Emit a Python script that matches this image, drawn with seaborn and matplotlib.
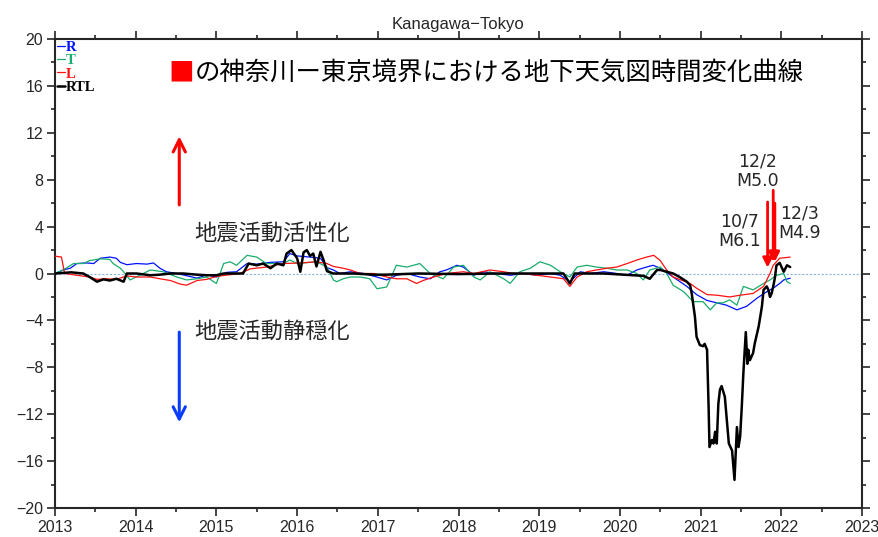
import matplotlib
matplotlib.use("Agg")
import matplotlib.pyplot as plt
from matplotlib.ticker import MultipleLocator
import seaborn as sns

# ---- data (decimal year, value) ----
r_t = [2013.00, 2013.10, 2013.19, 2013.27, 2013.39, 2013.48, 2013.56, 2013.68, 2013.76, 2013.81,
       2013.89, 2014.01, 2014.14, 2014.22, 2014.30, 2014.38, 2014.51, 2014.67, 2014.76, 2014.88,
       2015.00, 2015.13, 2015.25, 2015.38, 2015.50, 2015.67, 2015.83, 2015.91, 2016.00, 2016.16,
       2016.29, 2016.37, 2016.45, 2016.53, 2016.66, 2016.82, 2016.99, 2017.11, 2017.23, 2017.36,
       2017.52, 2017.65, 2017.77, 2017.85, 2017.98, 2018.06, 2018.19, 2018.31, 2018.47, 2018.64,
       2018.80, 2018.97, 2019.14, 2019.26, 2019.38, 2019.51, 2019.63, 2019.80, 2019.96, 2020.09,
       2020.21, 2020.33, 2020.41, 2020.50, 2020.66, 2020.83, 2020.95, 2021.08, 2021.20, 2021.32,
       2021.45, 2021.57, 2021.70, 2021.82, 2021.90, 2021.98, 2022.03, 2022.11]
r_v = [0.00, 0.30, 0.45, 0.85, 0.90, 0.85, 1.30, 1.40, 1.30, 0.95,
       0.75, 0.85, 0.80, 0.90, 0.45, 0.15, 0.00, -0.25, -0.40, -0.10,
       -0.30, 0.10, 0.15, 0.85, 0.80, 0.95, 1.00, 1.70, 1.50, 1.40,
       1.30, 0.50, 0.30, 0.00, 0.15, 0.00, -0.30, -0.55, -0.15, 0.00,
       -0.30, -0.45, 0.15, 0.30, 0.70, 0.55, -0.15, 0.15, 0.00, -0.15,
       0.00, -0.15, 0.00, -0.15, -0.70, 0.15, 0.00, 0.15, 0.00, -0.15,
       0.30, 0.55, 0.70, 0.45, -0.30, -1.10, -1.80, -2.30, -2.50, -2.70,
       -3.10, -2.80, -2.10, -1.55, -1.25, -0.85, -0.55, -0.40]

t_t = [2013.00, 2013.10, 2013.23, 2013.35, 2013.43, 2013.56, 2013.68, 2013.72, 2013.81, 2013.85,
       2013.93, 2014.05, 2014.18, 2014.34, 2014.51, 2014.63, 2014.76, 2014.88, 2015.00, 2015.09,
       2015.17, 2015.25, 2015.38, 2015.50, 2015.62, 2015.83, 2015.91, 2016.00, 2016.24, 2016.37,
       2016.45, 2016.49, 2016.57, 2016.66, 2016.78, 2016.90, 2016.99, 2017.11, 2017.23, 2017.36,
       2017.52, 2017.65, 2017.81, 2017.94, 2018.06, 2018.19, 2018.27, 2018.39, 2018.56, 2018.64,
       2018.76, 2018.89, 2019.01, 2019.14, 2019.26, 2019.38, 2019.47, 2019.59, 2019.71, 2019.84,
       2019.96, 2020.09, 2020.21, 2020.29, 2020.37, 2020.50, 2020.58, 2020.66, 2020.79, 2020.91,
       2021.03, 2021.12, 2021.20, 2021.28, 2021.36, 2021.45, 2021.53, 2021.65, 2021.78, 2021.86,
       2021.94, 2022.03, 2022.07, 2022.11]
t_v = [0.00, 0.30, 0.85, 0.85, 1.10, 1.25, 1.20, 0.85, 0.45, 0.15,
       -0.55, -0.15, 0.30, 0.15, -0.30, -0.55, -0.45, -0.30, -0.85, 0.85,
       1.00, 0.70, 1.55, 1.40, 0.85, 0.85, 1.15, 0.85, 1.00, 0.55,
       -0.55, -0.70, -0.45, -0.30, -0.30, -0.45, -1.30, -1.15, 0.70, 0.55,
       0.85, 0.00, -0.45, 0.55, 0.70, -0.30, -0.55, 0.15, -0.45, -0.85,
       0.15, 0.45, 1.00, 0.70, 0.15, -0.30, 0.55, 0.70, 0.55, 0.45,
       0.30, 0.30, 0.00, -0.55, 0.30, 0.55, 0.00, -1.00, -1.55, -2.40,
       -2.40, -3.10, -2.50, -2.50, -2.25, -2.70, -1.10, -1.40, -0.85, -0.55,
       -0.15, 0.00, -0.70, -0.85]

l_t = [2013.00, 2013.08, 2013.12, 2013.27, 2013.43, 2013.52, 2013.64, 2013.76, 2013.89, 2014.01,
       2014.18, 2014.30, 2014.43, 2014.55, 2014.63, 2014.76, 2014.88, 2015.00, 2015.17, 2015.29,
       2015.42, 2015.62, 2015.83, 2016.04, 2016.24, 2016.37, 2016.45, 2016.57, 2016.66, 2016.78,
       2016.95, 2017.11, 2017.23, 2017.36, 2017.48, 2017.56, 2017.69, 2017.85, 2018.06, 2018.19,
       2018.39, 2018.56, 2018.68, 2018.80, 2018.97, 2019.14, 2019.30, 2019.38, 2019.47, 2019.59,
       2019.71, 2019.84, 2019.96, 2020.09, 2020.21, 2020.33, 2020.42, 2020.50, 2020.58, 2020.66,
       2020.87, 2020.95, 2021.08, 2021.20, 2021.36, 2021.49, 2021.65, 2021.78, 2021.86, 2021.90,
       2021.98, 2022.11]
l_v = [1.48, 1.40, 0.00, -0.15, -0.30, -0.50, -0.45, -0.50, -0.20, -0.30,
       -0.30, -0.45, -0.60, -0.90, -1.00, -0.60, -0.50, -0.25, -0.10, 0.00,
       0.40, 0.55, 0.85, 0.90, 1.00, 0.85, 0.60, 0.45, 0.30, 0.00,
       0.00, -0.30, -0.45, -0.45, -0.85, -0.60, -0.30, 0.00, 0.15, 0.00,
       0.30, 0.15, 0.00, 0.00, -0.15, -0.30, -0.45, -1.10, -0.30, 0.15,
       0.30, 0.45, 0.55, 0.85, 1.15, 1.40, 1.55, 1.10, 0.30, -0.30,
       -0.85, -1.25, -1.80, -1.85, -2.00, -1.85, -1.70, -1.10, 0.00, 0.70,
       1.30, 1.40]

rtl_t = [2013.00, 2013.20, 2013.35, 2013.43, 2013.52, 2013.60, 2013.68, 2013.76, 2013.85, 2013.89,
         2014.01, 2014.18, 2014.30, 2014.43, 2014.59, 2014.76, 2014.88, 2015.00, 2015.09, 2015.25,
         2015.33, 2015.40, 2015.50, 2015.58, 2015.67, 2015.75, 2015.83, 2015.87, 2015.93, 2016.00,
         2016.04, 2016.08, 2016.12, 2016.16, 2016.20, 2016.24, 2016.29, 2016.33, 2016.37, 2016.45,
         2016.70, 2016.95, 2017.10, 2017.50, 2018.00, 2018.50, 2019.00, 2019.30, 2019.38, 2019.44,
         2019.80, 2020.29, 2020.37, 2020.46, 2020.50, 2020.58, 2020.66, 2020.74, 2020.83, 2020.87,
         2020.89, 2020.93, 2020.95, 2020.99, 2021.03, 2021.05, 2021.08, 2021.10, 2021.11, 2021.14,
         2021.16, 2021.18, 2021.20, 2021.22, 2021.24, 2021.26, 2021.30, 2021.35, 2021.39, 2021.42,
         2021.45, 2021.47, 2021.49, 2021.51, 2021.53, 2021.56, 2021.58, 2021.59, 2021.61, 2021.65,
         2021.67, 2021.72, 2021.76, 2021.78, 2021.82, 2021.84, 2021.86, 2021.88, 2021.90, 2021.92,
         2021.94, 2021.98, 2022.03, 2022.07, 2022.11]
rtl_v = [0.00, 0.10, 0.00, -0.30, -0.70, -0.50, -0.60, -0.45, -0.70, 0.00,
         0.00, -0.15, -0.10, 0.00, 0.00, -0.10, -0.15, -0.15, 0.00, 0.00,
         0.00, 0.85, 0.70, 0.85, 0.45, 0.85, 0.70, 1.70, 2.00, 1.30,
         0.15, 1.80, 2.00, 1.50, 1.70, 0.60, 1.85, 1.10, 0.20, 0.00,
         0.00, -0.10, -0.10, 0.00, -0.05, 0.00, 0.00, 0.00, -0.85, 0.00,
         0.00, -0.20, -0.45, 0.30, 0.30, 0.15, 0.00, -0.30, -0.70, -1.00,
         -1.70, -3.70, -5.40, -6.10, -6.20, -6.00, -6.50, -11.60, -14.80, -14.20,
         -14.50, -13.50, -14.50, -11.10, -9.90, -9.60, -10.50, -14.50, -15.10, -17.60,
         -13.10, -14.80, -13.90, -11.40, -8.50, -5.00, -7.70, -6.50, -7.40, -6.80,
         -6.00, -4.50, -2.80, -1.40, -1.10, -1.40, -2.00, -1.70, -1.10, -0.40,
         0.70, 0.90, 0.15, 0.70, 0.55]

# earthquakes marked with arrows (date position, arrow top, arrow tip)
eq_x = [2021.83, 2021.90, 2021.92]
eq_top = [6.1, 7.1, 6.0]
eq_tip = [0.5, 1.0, 1.0]
eq_labels = ["10/7\nM6.1", "12/2\nM5.0", "12/3\nM4.9"]
eq_label_x = [2021.48, 2021.70, 2022.23]
eq_label_y = [3.6, 8.7, 4.3]

series = [
    (r_t, r_v, "#0010ff", 0.9, "R"),
    (t_t, t_v, "#18ad6c", 0.9, "T"),
    (l_t, l_v, "#ff1010", 0.9, "L"),
    (rtl_t, rtl_v, "black", 1.8, "RTL"),
]

sns.set_style("ticks")
plt.rcParams["font.family"] = ["Liberation Sans", "DejaVu Sans"]
jp = ["Noto Sans CJK JP", "DejaVu Sans"]

fig = plt.figure(figsize=(8.79, 5.37), dpi=100)
ax = fig.add_axes([55 / 879, 29 / 537, 807 / 879, 469 / 537])

ax.axhline(0, color="#8cb4dc", lw=0.8, ls=(0, (2, 1.5)), zorder=1)

for t, v, c, lw, lab in series:
    sns.lineplot(x=t, y=v, color=c, linewidth=lw, label=lab, ax=ax,
                 sort=False, estimator=None, zorder=3)

ax.set_xlim(2013, 2023)
ax.set_ylim(-20, 20)
ax.xaxis.set_major_locator(MultipleLocator(1))
ax.xaxis.set_minor_locator(MultipleLocator(0.5))
ax.yaxis.set_major_locator(MultipleLocator(4))
ax.yaxis.set_minor_locator(MultipleLocator(2))
ax.xaxis.set_major_formatter(plt.FuncFormatter(lambda v, p: f"{int(round(v))}"))
ax.tick_params(which="both", direction="out", top=True, right=True, width=1.2,
               labelsize=11.5, pad=3)
ax.tick_params(which="major", length=5.5)
ax.tick_params(which="minor", length=3)
for s in ax.spines.values():
    s.set_linewidth(1.5)
ax.set_xlabel("")
ax.set_ylabel("")

ax.set_title("Kanagawa\u2212Tokyo", fontsize=12, pad=7)

leg = ax.legend(loc="upper left", bbox_to_anchor=(0.001, 0.999), frameon=False,
                handlelength=0.5, handletextpad=0.1, labelspacing=0.0,
                borderpad=0.1, borderaxespad=0.0, labelcolor="linecolor",
                prop={"family": "Liberation Serif", "weight": "bold", "size": 10.5})

# headline
ax.text(2014.41, 17.1, "\u25a0", color="red", fontsize=18.5, family=jp,
        ha="left", va="center")
ax.text(2014.73, 17.1, "の神奈川ー東京境界における地下天気図時間変化曲線",
        color="black", fontsize=18.3, family=jp, ha="left", va="center")

# activation / quiescence indicators
ax.annotate("", xy=(2014.54, 11.7), xytext=(2014.54, 5.85),
            arrowprops=dict(arrowstyle="->", color="red", lw=2.2,
                            mutation_scale=22, shrinkA=0, shrinkB=0))
ax.annotate("", xy=(2014.54, -12.7), xytext=(2014.54, -5.0),
            arrowprops=dict(arrowstyle="->", color="#0a3cff", lw=2.2,
                            mutation_scale=22, shrinkA=0, shrinkB=0))
ax.text(2014.73, 3.45, "地震活動活性化", fontsize=16, family=jp, ha="left", va="center")
ax.text(2014.73, -4.95, "地震活動静穏化", fontsize=16, family=jp, ha="left", va="center")

# earthquake arrows
for x, top, tip in zip(eq_x, eq_top, eq_tip):
    ax.annotate("", xy=(x, tip), xytext=(x, top),
                arrowprops=dict(arrowstyle="-|>", color="red", lw=2,
                                mutation_scale=14, shrinkA=0, shrinkB=0),
                zorder=4)
for lab, x, y in zip(eq_labels, eq_label_x, eq_label_y):
    ax.text(x, y, lab, fontsize=12.5, family="DejaVu Sans", ha="center",
            va="center", linespacing=1.1)

fig.savefig("out.png", dpi=100)
